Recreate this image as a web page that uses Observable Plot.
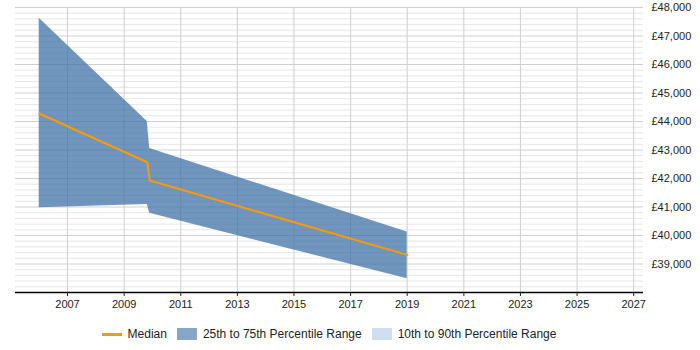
<!DOCTYPE html>
<html>
<head>
<meta charset="utf-8">
<script src="https://cdn.jsdelivr.net/npm/d3@7"></script>
<script src="https://cdn.jsdelivr.net/npm/@observablehq/plot@0.6"></script>
<style>
  html, body { margin: 0; padding: 0; background: #fff; }
  body { width: 700px; height: 350px; font-family: "Liberation Sans", Arial, sans-serif; }
  #legend {
    display: flex; justify-content: center; align-items: center;
    padding: 0 57px 0 15px; height: 30px; margin-top: 1px;
    font-size: 12px; color: #222;
  }
  .item { display: flex; align-items: center; margin: 0 5px; }
  .sw { width: 20px; height: 12px; margin-right: 6px; }
  .ln { width: 20px; height: 3px; margin-right: 6px; background: #ff9900; }
</style>
</head>
<body>
<div id="chart"></div>
<div id="legend">
  <div class="item"><div class="ln"></div>Median</div>
  <div class="item"><div class="sw" style="background:#88a6c8"></div>25th to 75th Percentile Range</div>
  <div class="item"><div class="sw" style="background:#d0dff0"></div>10th to 90th Percentile Range</div>
</div>
<script>
// Salary percentiles over time
const dates = ["2006-01-01", "2009-10-26", "2009-11-27", "2019-01-01"];
const median = [44280, 42570, 41930, 39320];
const p25 = [40970, 41090, 40780, 38480];
const p75 = [47620, 44000, 43050, 40120];

// Axis ticks
const yearTicks = [2007, 2009, 2011, 2013, 2015, 2017, 2019, 2021, 2023, 2025, 2027];
const salaryTicks = [39000, 40000, 41000, 42000, 43000, 44000, 45000, 46000, 47000, 48000];

const rows = dates.map((d, i) => ({
  date: new Date(d + "T00:00:00Z"),
  median: median[i],
  lo: p25[i],
  hi: p75[i]
}));

const xTickDates = yearTicks.map(y => new Date(Date.UTC(y, 0, 1)));
const minorTicks = d3.range(38200, 48001, 200).filter(v => v % 1000 !== 0);
const fmt = d3.format(",");

const chart = Plot.plot({
  width: 700,
  height: 318,
  marginLeft: 15,
  marginRight: 57,
  marginTop: 7,
  marginBottom: 26,
  style: { fontFamily: "'Liberation Sans', Arial, sans-serif", fontSize: "11px", color: "#222", background: "#fff" },
  x: {
    type: "utc",
    domain: [new Date("2005-03-01T00:00:00Z"), new Date("2027-05-08T00:00:00Z")],
    ticks: xTickDates,
    tickFormat: d => String(d.getUTCFullYear()),
    tickSize: 4,
    tickPadding: 4,
    label: null
  },
  y: {
    domain: [38000, 48000],
    ticks: salaryTicks,
    tickFormat: d => "£" + fmt(d),
    tickSize: 0,
    tickPadding: 8,
    label: null
  },
  axis: null,
  marks: [
    Plot.ruleY(minorTicks, { stroke: "#e6e6e6", strokeWidth: 1 }),
    Plot.ruleY(salaryTicks, { stroke: "#cfcfcf", strokeWidth: 1 }),
    Plot.ruleX(xTickDates, { stroke: "#cfcfcf", strokeWidth: 1 }),
    Plot.areaY(rows, { x: "date", y1: "lo", y2: "hi", fill: "rgb(64,115,168)", fillOpacity: 0.75 }),
    Plot.lineY(rows, { x: "date", y: "median", stroke: "#ff9900", strokeWidth: 2 }),
    Plot.ruleY([38000], { stroke: "#000", strokeWidth: 1.5 }),
    Plot.axisX({ ticks: xTickDates, tickFormat: d => String(d.getUTCFullYear()), tickSize: 4, tickPadding: 4, label: null }),
    Plot.axisY({ anchor: "right", ticks: salaryTicks, tickFormat: d => "£" + fmt(d), tickSize: 0, tickPadding: 8, label: null, textAnchor: "start" })
  ]
});

document.getElementById("chart").appendChild(chart);
</script>
</body>
</html>
